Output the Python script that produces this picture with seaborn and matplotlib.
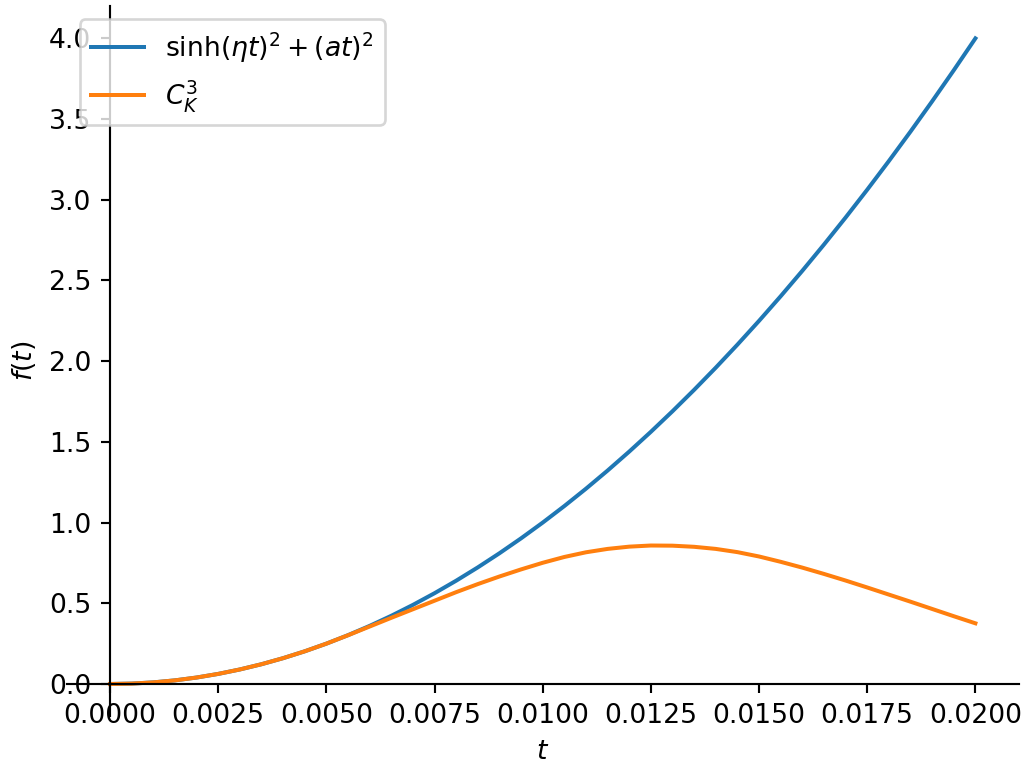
import matplotlib
matplotlib.use('Agg')
import matplotlib.pyplot as plt
import seaborn as sns
import pandas as pd

# values
t_vals = [0.0000, 0.0005, 0.0010, 0.0015, 0.0020, 0.0025, 0.0030, 0.0035,
          0.0040, 0.0045, 0.0050, 0.0055, 0.0060, 0.0065, 0.0070, 0.0075,
          0.0080, 0.0085, 0.0090, 0.0095, 0.0100, 0.0105, 0.0110, 0.0115,
          0.0120, 0.0125, 0.0130, 0.0135, 0.0140, 0.0145, 0.0150, 0.0155,
          0.0160, 0.0165, 0.0170, 0.0175, 0.0180, 0.0185, 0.0190, 0.0195,
          0.0200]
sinh_vals = [0.000, 0.0025, 0.010, 0.0225, 0.040, 0.0625, 0.090, 0.1225,
             0.160, 0.2025, 0.250, 0.3025, 0.360, 0.4225, 0.490, 0.5625,
             0.640, 0.7225, 0.810, 0.9025, 1.000, 1.1025, 1.210, 1.3225,
             1.440, 1.5625, 1.690, 1.8225, 1.960, 2.1025, 2.250, 2.4025,
             2.560, 2.7225, 2.890, 3.0625, 3.240, 3.4225, 3.610, 3.8025,
             4.000]
ck3_vals = [0.000, 0.0025, 0.010, 0.0225, 0.040, 0.0625, 0.090, 0.1225,
            0.160, 0.2025, 0.250, 0.302, 0.356, 0.410, 0.463, 0.516,
            0.569, 0.619, 0.666, 0.710, 0.751, 0.787, 0.816, 0.837,
            0.851, 0.858, 0.857, 0.850, 0.837, 0.817, 0.790, 0.757,
            0.721, 0.682, 0.641, 0.598, 0.554, 0.510, 0.465, 0.420,
            0.376]

labels = [r'$\sinh(\eta t)^2 + (a t)^2$', r'$C_K^3$']
colors = ['#1f77b4', '#ff7f0e']

df = pd.DataFrame({'t': t_vals, 'sinh': sinh_vals, 'ck3': ck3_vals})

DPI = 192
fig, ax = plt.subplots(figsize=(1030 / DPI, 762 / DPI), dpi=DPI)
fig.subplots_adjust(left=0.0648, right=0.989, bottom=0.060, top=0.992)

sns.lineplot(data=df, x='t', y='sinh', ax=ax, color=colors[0],
             label=labels[0], linewidth=1.5)
sns.lineplot(data=df, x='t', y='ck3', ax=ax, color=colors[1],
             label=labels[1], linewidth=1.5)

# spines through the origin
ax.spines['left'].set_position('zero')
ax.spines['bottom'].set_position('zero')
ax.spines['top'].set_visible(False)
ax.spines['right'].set_visible(False)

ax.set_xlabel(r'$t$')
ax.set_ylabel(r'$f(t)$')
ax.legend(loc='upper left')

plt.savefig('out.png', dpi=DPI)
